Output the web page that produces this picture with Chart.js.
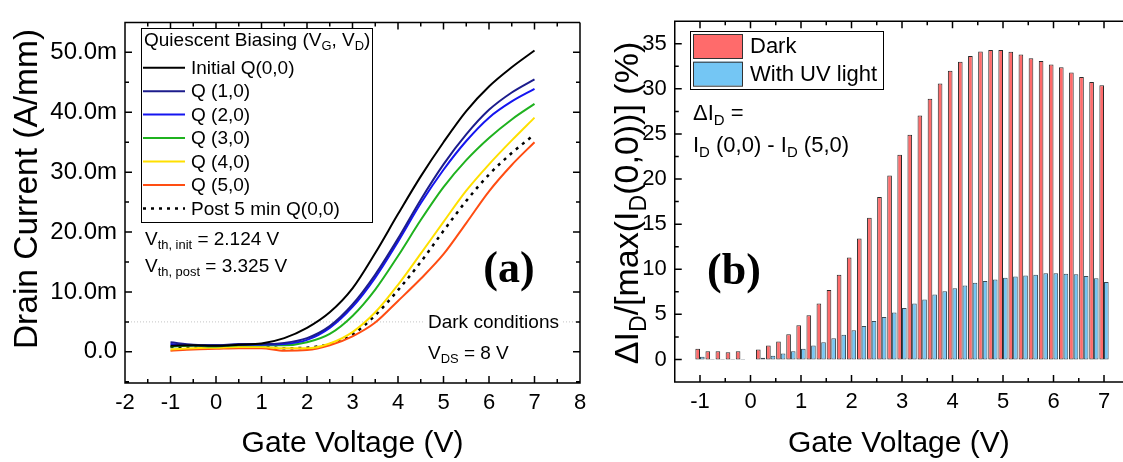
<!DOCTYPE html>
<html lang="en">
<head>
<meta charset="UTF-8">
<title>Quiescent biasing: drain current and current drop</title>
<script src="https://cdn.jsdelivr.net/npm/chart.js"></script>
<style>
  html, body { margin: 0; padding: 0; background: #fff; overflow: hidden; width: 1123px; height: 462px; }
  #left { position: absolute; left: 0; top: 0; }
  #right { position: absolute; left: 600px; top: 0; }
</style>
</head>
<body>
<canvas id="left" width="600" height="462"></canvas>
<canvas id="right" width="523" height="462"></canvas>
<script>
// ---- panel (a): transfer curves, drain current in mA/mm ----
const gateV = [-1, -0.5, 0, 0.5, 1, 1.5, 2, 2.5, 3, 3.5, 4, 4.5, 5, 5.5, 6, 6.5, 7];
const idInitial = [1.0, 1.1, 1.0, 1.2, 1.4, 2.3, 4.0, 6.6, 10.6, 16.5, 23.0, 29.3, 35.0, 40.2, 44.3, 47.5, 50.3];
const idQ10     = [1.6, 1.2, 1.1, 1.3, 1.3, 1.5, 2.3, 4.3, 7.9, 12.9, 18.9, 25.4, 31.3, 36.3, 40.4, 43.3, 45.5];
const idQ20     = [1.3, 1.1, 1.1, 1.2, 1.2, 1.3, 2.0, 4.0, 7.5, 12.4, 18.4, 24.8, 30.4, 35.2, 39.1, 41.8, 43.9];
const idQ30     = [0.9, 1.0, 0.9, 1.1, 1.1, 1.1, 1.6, 3.0, 6.0, 10.4, 16.0, 22.0, 27.5, 32.0, 35.7, 38.8, 41.4];
const idQ40     = [0.4, 0.6, 0.7, 0.8, 0.8, 0.6, 0.6, 1.4, 3.3, 6.6, 11.2, 16.4, 21.7, 26.9, 31.3, 35.3, 39.1];
const idQ50     = [0.2, 0.4, 0.5, 0.6, 0.6, 0.2, 0.3, 1.1, 2.6, 4.9, 8.5, 12.2, 16.3, 21.5, 26.8, 31.2, 35.0];
const idPost    = [0.8, 0.8, 0.8, 0.9, 0.9, 0.6, 0.7, 1.3, 2.9, 6.1, 10.3, 15.0, 20.2, 25.2, 29.6, 33.2, 36.3];
const darkLevel = 5; // mA/mm reference line

const aXTicks = [-2, -1, 0, 1, 2, 3, 4, 5, 6, 7, 8];
const aXMinor = [-1.5, -0.5, 0.5, 1.5, 2.5, 3.5, 4.5, 5.5, 6.5, 7.5];
const aYTicks = [0, 10, 20, 30, 40, 50];
const aYMinor = [-5, 5, 15, 25, 35, 45];

// ---- panel (b): relative drop of I_D in % ----
const stepV = [-1, -0.8, -0.6, -0.4, -0.2,
  0.2, 0.4, 0.6, 0.8, 1.0, 1.2, 1.4, 1.6, 1.8, 2.0,
  2.2, 2.4, 2.6, 2.8, 3.0, 3.2, 3.4, 3.6, 3.8, 4.0,
  4.2, 4.4, 4.6, 4.8, 5.0, 5.2, 5.4, 5.6, 5.8, 6.0,
  6.2, 6.4, 6.6, 6.8, 7.0];
const darkPct = [1.2, 0.9, 0.9, 0.8, 0.9,
  1.1, 1.55, 2.0, 2.8, 3.8, 4.9, 6.2, 7.7, 9.4, 11.3,
  13.4, 15.7, 18.0, 20.4, 22.7, 24.9, 27.05, 28.9, 30.6, 32.0,
  33.0, 33.65, 34.15, 34.3, 34.3, 34.1, 33.8, 33.4, 33.1, 32.7,
  32.4, 31.8, 31.3, 30.75, 30.4];
const uvPct = [0.3, 0.05, 0.05, 0.05, 0.05,
  0.2, 0.4, 0.65, 0.9, 1.2, 1.55, 1.9, 2.35, 2.75, 3.25,
  3.7, 4.25, 4.7, 5.2, 5.7, 6.2, 6.65, 7.2, 7.55, 7.9,
  8.2, 8.5, 8.7, 8.85, 9.05, 9.2, 9.3, 9.4, 9.55, 9.55,
  9.5, 9.45, 9.25, 9.0, 8.6];

const bXTicks = [-1, 0, 1, 2, 3, 4, 5, 6, 7];
const bXMinor = [-0.5, 0.5, 1.5, 2.5, 3.5, 4.5, 5.5, 6.5];
const bYTicks = [0, 5, 10, 15, 20, 25, 30, 35];
const bYMinor = [-2.5, 2.5, 7.5, 12.5, 17.5, 22.5, 27.5, 32.5];

const FONT = '"Liberation Sans", Arial, sans-serif';

function xy(xs, ys) { return xs.map((x, i) => ({ x: x, y: ys[i] })); }

// text made of pieces, arrays are subscripts; returns width
function rich(ctx, parts, x, y, size, draw) {
  let cx = x;
  ctx.textBaseline = 'middle';
  ctx.textAlign = 'left';
  parts.forEach(p => {
    const sub = Array.isArray(p);
    const t = sub ? p[0] : p;
    const fs = sub ? size * 0.68 : size;
    ctx.font = fs + 'px ' + FONT;
    if (draw !== false) ctx.fillText(t, cx, sub ? y + size * 0.3 : y);
    cx += ctx.measureText(t).width;
  });
  return cx - x;
}

function vertTitle(ctx, parts, cx, cy, size) {
  const w = rich(ctx, parts, 0, 0, size, false);
  ctx.save();
  ctx.translate(cx, cy);
  ctx.rotate(-Math.PI / 2);
  ctx.fillStyle = '#000';
  rich(ctx, parts, -w / 2, 0, size);
  ctx.restore();
}

// frame with inward ticks
const frameTicks = {
  id: 'frameTicks',
  afterDatasetsDraw(chart, args, o) {
    const { ctx, chartArea: a, scales: { x, y } } = chart;
    ctx.save();
    ctx.strokeStyle = '#000';
    ctx.lineWidth = 1.5;
    ctx.beginPath();
    ctx.moveTo(a.right, a.top); ctx.lineTo(a.left, a.top);
    ctx.lineTo(a.left, a.bottom); ctx.lineTo(a.right, a.bottom);
    if (o.rightSide) ctx.lineTo(a.right, a.top);
    const tick = (vals, len) => {
      vals.forEach(v => {
        const px = x.getPixelForValue(v);
        ctx.moveTo(px, a.bottom); ctx.lineTo(px, a.bottom - len);
        ctx.moveTo(px, a.top); ctx.lineTo(px, a.top + len);
      });
    };
    const ytick = (vals, len) => {
      vals.forEach(v => {
        const py = y.getPixelForValue(v);
        ctx.moveTo(a.left, py); ctx.lineTo(a.left + len, py);
        if (o.rightSide) { ctx.moveTo(a.right, py); ctx.lineTo(a.right - len, py); }
      });
    };
    tick(o.xMajor, 7); tick(o.xMinor, 4);
    ytick(o.yMajor, 7); ytick(o.yMinor, 4);
    ctx.stroke();
    ctx.restore();
  }
};

// ---------- panel (a) ----------
const leftDecor = {
  id: 'leftDecor',
  afterDraw(chart) {
    const ctx = chart.ctx;
    ctx.save();
    ctx.fillStyle = '#fff';
    ctx.fillRect(141, 28, 231, 194);
    ctx.strokeStyle = '#000';
    ctx.lineWidth = 1;
    ctx.strokeRect(141.5, 28.5, 231, 194);
    ctx.fillStyle = '#000';
    rich(ctx, ['Quiescent Biasing (V', ['G'], ', V', ['D'], ')'], 144, 41, 19);
    const items = chart.data.datasets.filter(d => !d.noLegend);
    items.forEach((d, i) => {
      const yy = 67.7 + i * 23.45;
      ctx.strokeStyle = d.borderColor;
      ctx.lineWidth = d.borderWidth;
      ctx.setLineDash(d.borderDash || []);
      ctx.beginPath();
      ctx.moveTo(143, yy); ctx.lineTo(185, yy);
      ctx.stroke();
      ctx.setLineDash([]);
      ctx.fillStyle = '#000';
      ctx.font = '19px ' + FONT;
      ctx.textBaseline = 'middle';
      ctx.fillText(d.label, 191, yy + 1);
    });
    rich(ctx, ['V', ['th, init'], ' = 2.124 V'], 145, 240, 19);
    rich(ctx, ['V', ['th, post'], ' = 3.325 V'], 145, 267, 19);
    ctx.font = '19px ' + FONT;
    const w = ctx.measureText('Dark conditions').width;
    ctx.fillStyle = '#fff';
    ctx.fillRect(424, 311, w + 8, 24);
    ctx.fillStyle = '#000';
    rich(ctx, ['Dark conditions'], 428, 323, 19);
    rich(ctx, ['V', ['DS'], ' = 8 V'], 428, 354, 19);
    ctx.font = 'bold 44px "Liberation Serif", "DejaVu Serif", serif';
    ctx.textAlign = 'center';
    ctx.textBaseline = 'middle';
    ctx.fillText('(a)', 509, 271);
    vertTitle(ctx, ['Drain Current (A/mm)'], 28, 189, 33.5);
    ctx.restore();
  }
};

const lineSet = (label, data, color, extra) => Object.assign({
  label: label,
  data: xy(gateV, data),
  borderColor: color,
  borderWidth: 2,
  pointRadius: 0,
  fill: false,
  cubicInterpolationMode: 'monotone'
}, extra || {});

new Chart(document.getElementById('left'), {
  type: 'line',
  data: {
    datasets: [
      lineSet('Initial Q(0,0)', idInitial, '#000000'),
      lineSet('Q (1,0)', idQ10, '#1c1c8c'),
      lineSet('Q (2,0)', idQ20, '#1515f0'),
      lineSet('Q (3,0)', idQ30, '#1fb21f'),
      lineSet('Q (4,0)', idQ40, '#ffe000'),
      lineSet('Q (5,0)', idQ50, '#ff4d12'),
      lineSet('Post 5 min Q(0,0)', idPost, '#000000', { borderDash: [3, 5], borderWidth: 2.5 }),
      {
        label: '', noLegend: true,
        data: [{ x: -2, y: darkLevel }, { x: 8, y: darkLevel }],
        borderColor: '#c4c4c4', borderWidth: 1, borderDash: [1, 2], pointRadius: 0
      }
    ]
  },
  options: {
    responsive: false,
    animation: false,
    layout: { padding: { left: 0, right: 20, top: 16, bottom: 0 } },
    plugins: {
      legend: { display: false },
      tooltip: { enabled: false },
      frameTicks: { xMajor: aXTicks, xMinor: aXMinor, yMajor: aYTicks, yMinor: aYMinor, rightSide: true }
    },
    scales: {
      x: {
        type: 'linear', min: -2, max: 8,
        afterBuildTicks: s => { s.ticks = aXTicks.map(v => ({ value: v })); },
        afterFit: s => { s.height = 79; },
        grid: { display: false, drawTicks: false },
        border: { display: false },
        ticks: { color: '#000', font: { size: 22, family: FONT }, padding: 7, maxRotation: 0 },
        title: { display: true, text: 'Gate Voltage (V)', color: '#000', font: { size: 30, family: FONT }, padding: { top: 0, bottom: 0 } }
      },
      y: {
        min: -5.2, max: 55,
        afterBuildTicks: s => { s.ticks = aYTicks.map(v => ({ value: v })); },
        afterFit: s => { s.width = 125; },
        grid: { display: false, drawTicks: false },
        border: { display: false },
        ticks: {
          color: '#000', font: { size: 24, family: FONT }, padding: 8,
          callback: v => v === 0 ? '0.0' : v.toFixed(1) + 'm'
        }
      }
    }
  },
  plugins: [frameTicks, leftDecor]
});

// ---------- panel (b) ----------
const rightDecor = {
  id: 'rightDecor',
  afterDraw(chart) {
    const ctx = chart.ctx;
    ctx.save();
    ctx.fillStyle = '#fff';
    ctx.fillRect(90, 31, 193, 58);
    ctx.strokeStyle = '#000';
    ctx.lineWidth = 1;
    ctx.strokeRect(90.5, 31.5, 193, 58);
    chart.data.datasets.forEach((d, i) => {
      const top = 34 + i * 27.7;
      ctx.fillStyle = d.backgroundColor;
      ctx.fillRect(93.5, top, 49, 24);
      ctx.strokeStyle = '#333';
      ctx.strokeRect(93.5, top + 0.5, 49, 24);
      ctx.fillStyle = '#000';
      ctx.font = '22px ' + FONT;
      ctx.textBaseline = 'middle';
      ctx.fillText(d.label, 150, top + 13);
    });
    rich(ctx, ['\u0394I', ['D'], ' ='], 93, 114, 22);
    rich(ctx, ['I', ['D'], ' (0,0) - I', ['D'], ' (5,0)'], 93, 146, 22);
    ctx.font = 'bold 44px "Liberation Serif", "DejaVu Serif", serif';
    ctx.textAlign = 'center';
    ctx.textBaseline = 'middle';
    ctx.fillText('(b)', 134, 273);
    vertTitle(ctx, ['\u0394I', ['D'], '/[max(I', ['D'], '(0,0))] (%)'], 29, 203, 34);
    ctx.restore();
  }
};

new Chart(document.getElementById('right'), {
  type: 'bar',
  data: {
    datasets: [
      { label: 'Dark', data: xy(stepV, darkPct), backgroundColor: '#ff6b6b', borderColor: '#2a2a2a', borderWidth: 1, borderSkipped: false },
      { label: 'With UV light', data: xy(stepV, uvPct), backgroundColor: '#74c6f4', borderColor: '#3a4a55', borderWidth: 1, borderSkipped: false }
    ]
  },
  options: {
    responsive: false,
    animation: false,
    layout: { padding: { left: 0, right: 0, top: 15, bottom: 0 } },
    datasets: { bar: { barPercentage: 1.0, categoryPercentage: 0.92 } },
    plugins: {
      legend: { display: false },
      tooltip: { enabled: false },
      frameTicks: { xMajor: bXTicks, xMinor: bXMinor, yMajor: bYTicks, yMinor: bYMinor, rightSide: false }
    },
    scales: {
      x: {
        type: 'linear', min: -1.5, max: 7.376, offset: false,
        afterBuildTicks: s => { s.ticks = bXTicks.map(v => ({ value: v })); },
        afterFit: s => { s.height = 80; },
        grid: { display: false, drawTicks: false },
        border: { display: false },
        ticks: { color: '#000', font: { size: 22, family: FONT }, padding: 7, maxRotation: 0 },
        title: { display: true, text: 'Gate Voltage (V)', color: '#000', font: { size: 30, family: FONT }, padding: { top: 0, bottom: 0 } }
      },
      y: {
        min: -2.5, max: 37.5,
        afterBuildTicks: s => { s.ticks = bYTicks.map(v => ({ value: v })); },
        afterFit: s => { s.width = 74.75; },
        grid: { display: false, drawTicks: false },
        border: { display: false },
        ticks: { color: '#000', font: { size: 22, family: FONT }, padding: 8 }
      }
    }
  },
  plugins: [frameTicks, rightDecor]
});
</script>
</body>
</html>
